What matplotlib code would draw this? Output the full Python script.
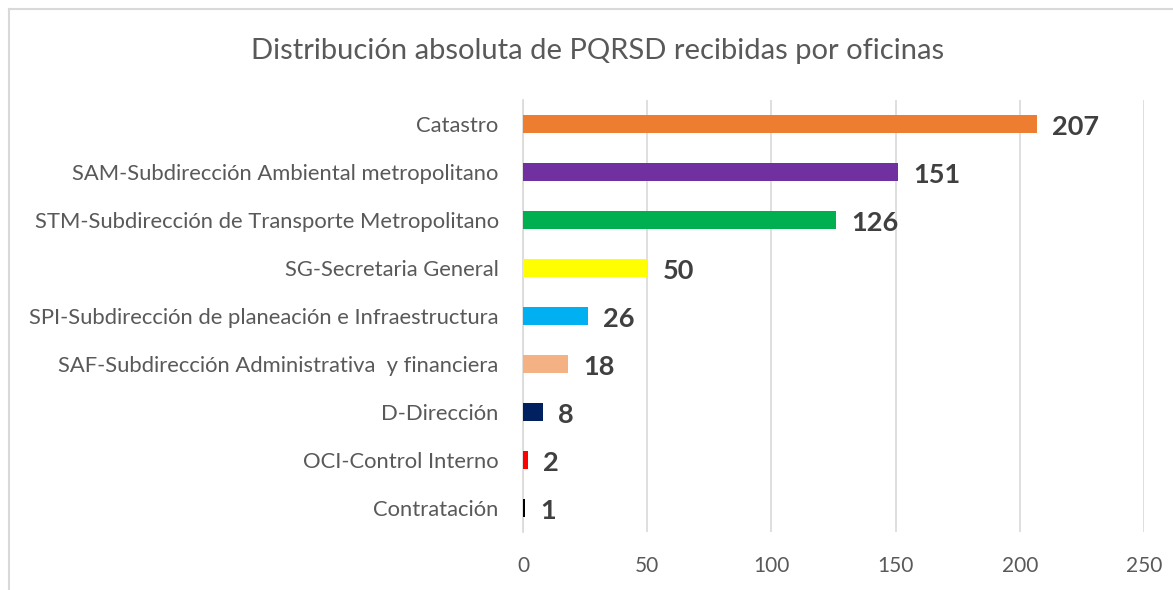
import matplotlib
matplotlib.use("Agg")
import matplotlib.pyplot as plt
from matplotlib.lines import Line2D

categories = [
    "Catastro",
    "SAM-Subdirección Ambiental metropolitano",
    "STM-Subdirección de Transporte Metropolitano",
    "SG-Secretaria General",
    "SPI-Subdirección de planeación e Infraestructura",
    "SAF-Subdirección Administrativa  y financiera",
    "D-Dirección",
    "OCI-Control Interno",
    "Contratación",
]
values = [207, 151, 126, 50, 26, 18, 8, 2, 1]
colors = ["#ED7D31", "#7030A0", "#00B050", "#FFFF00", "#00B0F0",
          "#F4B183", "#002060", "#FF0000", "#000000"]
xticks = [0, 50, 100, 150, 200, 250]
title = "Distribución absoluta de PQRSD recibidas por oficinas"

FONT = "Lato"
W, H = 1173, 590
fig = plt.figure(figsize=(W / 100, H / 100), dpi=100)
fig.patch.set_facecolor("white")

# chart border (left and top visible)
fig.add_artist(Line2D([9 / W, 9 / W], [0, 1 - 9 / H], color="#D9D9D9", lw=1.5,
                      transform=fig.transFigure))
fig.add_artist(Line2D([9 / W, 1], [1 - 9 / H, 1 - 9 / H], color="#D9D9D9", lw=1.5,
                      transform=fig.transFigure))

left, right = 523 / W, 1144 / W
bottom, top = 1 - 532 / H, 1 - 100 / H
ax = fig.add_axes([left, bottom, right - left, top - bottom])

ypos = list(range(len(categories)))
ax.barh(ypos, values, height=0.375, color=colors, zorder=3)
ax.set_ylim(len(categories) - 0.5, -0.5)
ax.set_xlim(0, 250)
ax.set_xticks(xticks)
ax.set_xticklabels([str(t) for t in xticks], fontsize=15, color="#595959", family=FONT)
ax.set_yticks(ypos)
ax.set_yticklabels(categories, fontsize=15.8, color="#595959", family=FONT)
ax.tick_params(axis="both", length=0)
ax.tick_params(axis="y", pad=17.5)
ax.tick_params(axis="x", pad=17)
ax.grid(axis="x", color="#D9D9D9", lw=1.2, zorder=0)
for s in ["top", "right", "bottom"]:
    ax.spines[s].set_visible(False)
ax.spines["left"].set_color("#D9D9D9")
ax.spines["left"].set_linewidth(1.2)

for y, v in zip(ypos, values):
    ax.annotate(str(v), (v, y), xytext=(11, -2), textcoords="offset points",
                ha="left", va="center", fontsize=19.5, fontweight="bold",
                color="#404040", family=FONT)

fig.text(598 / W, 1 - 51 / H, title, ha="center", va="center", fontsize=21,
         color="#595959", family=FONT)

fig.savefig("out.png", dpi=100, facecolor="white")
